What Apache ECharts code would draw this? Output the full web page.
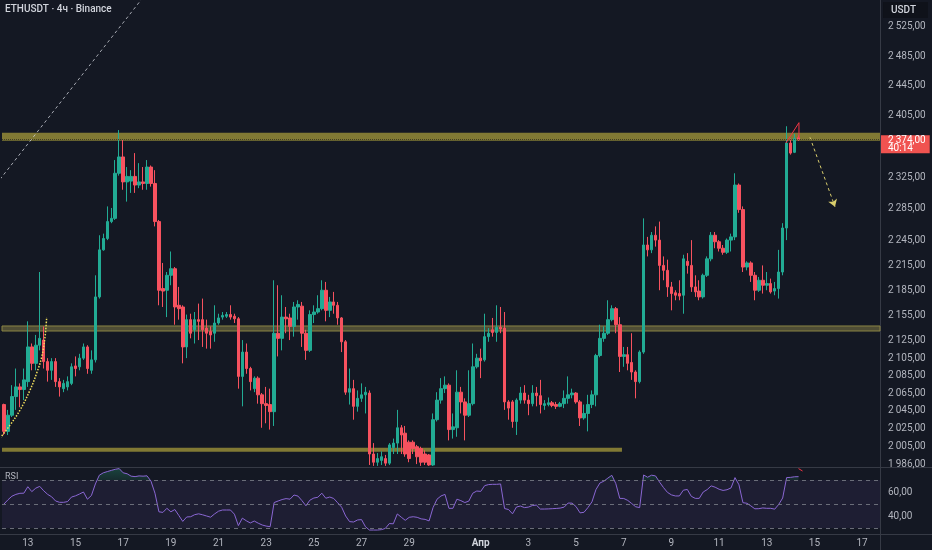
<!DOCTYPE html>
<html><head><meta charset="utf-8">
<script src="https://cdn.jsdelivr.net/npm/echarts@6/dist/echarts.min.js"></script>
<style>html,body{margin:0;padding:0;background:#141823;}#c{width:932px;height:550px;}</style>
</head><body><div id="c"></div>
<script>
// ---- time slots (4h candles) ----
const startTime = Date.UTC(2025, 2, 12, 0, 0);
const stepHours = 4;
const slotCount = 221;

// ---- OHLC: [open, close, low, high] ----
const ohlc = [
[2052,2022,2018,2053],[2022,2040,2018,2046],[2040,2061,2038,2074],[2061,2072,2046,2093],[2072,2069,2049,2076],
[2069,2080,2057,2093],[2078,2118,2072,2148],[2118,2099,2091,2122],[2099,2120,2091,2132],[2120,2128,2114,2207],
[2126,2101,2093,2142],[2101,2091,2078,2105],[2091,2101,2080,2105],[2101,2078,2072,2105],[2078,2072,2061,2082],
[2070,2076,2066,2080],[2072,2078,2068,2084],[2076,2095,2074,2099],[2096,2093,2084,2107],[2095,2105,2091,2110],
[2105,2118,2103,2122],[2118,2093,2087,2120],[2091,2103,2087,2114],[2103,2177,2100,2203],[2177,2234,2175,2252],
[2234,2248,2233,2254],[2248,2269,2246,2288],[2269,2273,2267,2286],[2273,2330,2271,2347],[2330,2351,2327,2386],
[2351,2319,2309,2373],[2319,2326,2294,2338],[2320,2326,2305,2334],[2326,2315,2305,2356],[2315,2319,2311,2343],
[2319,2317,2309,2338],[2317,2338,2309,2347],[2338,2317,2313,2340],[2317,2269,2263,2334],[2269,2185,2167,2271],
[2187,2184,2165,2218],[2185,2203,2153,2207],[2203,2211,2191,2232],[2211,2165,2144,2213],[2167,2163,2150,2189],
[2165,2118,2099,2167],[2118,2150,2105,2156],[2150,2134,2128,2157],[2138,2150,2122,2159],[2150,2148,2126,2169],
[2150,2138,2118,2175],[2140,2134,2116,2150],[2136,2132,2116,2142],[2134,2146,2124,2167],[2146,2152,2144,2157],
[2153,2155,2150,2159],[2154,2156,2152,2159],[2156,2153,2150,2167],[2154,2151,2146,2157],[2151,2084,2070,2153],
[2084,2112,2050,2126],[2112,2093,2087,2122],[2093,2078,2068,2095],[2070,2082,2066,2084],[2082,2063,2053,2084],
[2063,2053,2026,2065],[2053,2051,2031,2072],[2052,2044,2024,2070],[2044,2134,2028,2197],[2134,2128,2107,2191],
[2128,2153,2114,2179],[2153,2151,2134,2165],[2152,2142,2126,2157],[2142,2165,2130,2171],[2165,2168,2150,2173],
[2166,2134,2118,2171],[2134,2114,2103,2138],[2114,2156,2112,2161],[2156,2159,2146,2167],[2159,2163,2157,2179],
[2163,2185,2161,2197],[2185,2161,2148,2195],[2161,2171,2153,2177],[2171,2167,2157,2183],[2167,2152,2144,2171],
[2152,2124,2112,2153],[2124,2066,2063,2126],[2066,2070,2052,2093],[2070,2050,2035,2080],[2050,2059,2044,2068],
[2059,2063,2055,2076],[2063,2066,2042,2072],[2065,1997,1985,2068],[1997,1988,1984,2009],[1988,1992,1984,1998],
[1990,1994,1985,2000],[1992,1987,1984,1996],[1987,2007,1985,2009],[2004,2009,1997,2014],[2009,2026,1997,2046],
[2026,2018,1997,2029],[2020,1997,1994,2028],[2010,1992,1988,2012],[2010,2003,1997,2012],[2005,1994,1986,2007],
[2003,1988,1984,2005],[1997,1988,1985,2001],[1996,1985,1984,1997],[1985,2035,1984,2042],[2035,2057,2033,2066],
[2057,2070,2053,2082],[2070,2074,2065,2084],[2074,2024,2012,2076],[2024,2027,2014,2042],[2026,2066,2016,2091],
[2066,2055,2042,2072],[2055,2040,2012,2059],[2040,2053,2038,2091],[2053,2095,2051,2122],[2095,2105,2093,2110],
[2105,2102,2082,2116],[2103,2130,2101,2157],[2130,2134,2124,2140],[2138,2135,2130,2152],[2135,2141,2124,2167],
[2141,2139,2134,2165],[2140,2055,2046,2159],[2055,2048,2035,2057],[2055,2033,2026,2057],[2033,2057,2018,2059],
[2057,2065,2053,2072],[2065,2057,2053,2074],[2057,2053,2040,2063],[2053,2065,2050,2074],[2065,2062,2050,2072],
[2062,2052,2042,2080],[2051,2053,2046,2057],[2052,2054,2050,2060],[2054,2051,2049,2056],[2052,2050,2047,2055],
[2050,2053,2049,2055],[2053,2059,2048,2068],[2059,2063,2053,2084],[2063,2065,2059,2070],[2065,2055,2053,2066],
[2055,2037,2028,2057],[2037,2042,2035,2052],[2042,2052,2022,2063],[2052,2063,2048,2068],[2063,2108,2050,2110],
[2108,2128,2106,2144],[2128,2134,2124,2142],[2134,2150,2132,2173],[2150,2163,2148,2167],[2163,2144,2134,2165],
[2144,2107,2089,2153],[2107,2109,2095,2118],[2109,2099,2091,2118],[2100,2089,2080,2134],[2089,2078,2059,2091],
[2078,2112,2076,2114],[2112,2240,2110,2273],[2240,2234,2226,2250],[2234,2252,2230,2256],[2252,2246,2238,2263],
[2246,2215,2185,2269],[2215,2209,2197,2226],[2209,2189,2177,2222],[2189,2181,2161,2195],[2182,2179,2173,2185],
[2181,2178,2173,2197],[2179,2223,2157,2228],[2220,2215,2205,2230],[2215,2189,2183,2246],[2189,2183,2177,2203],
[2184,2177,2173,2197],[2177,2203,2175,2205],[2203,2223,2201,2226],[2223,2252,2220,2256],[2252,2244,2236,2256],
[2244,2236,2232,2246],[2236,2231,2228,2240],[2231,2246,2229,2248],[2246,2250,2232,2254],[2250,2315,2246,2330],
[2315,2284,2280,2317],[2284,2213,2207,2288],[2213,2218,2209,2220],[2218,2203,2195,2220],[2203,2185,2173,2207],
[2185,2197,2183,2201],[2197,2191,2181,2215],[2191,2193,2185,2207],[2193,2183,2181,2199],[2184,2187,2179,2195],
[2187,2207,2175,2234],[2207,2261,2203,2267],[2261,2369,2246,2391],[2369,2356,2354,2375],[2357,2375,2356,2381],
[2376,2374,2372,2379]
];

// ---- RSI(14) per candle ----
const rsi = [
50,53.5,56.5,58,58.9,59,64.4,60.3,63.2,64.7,
61,58,56,52.5,51.4,51.4,52,55.8,56.8,58.3,
60,54,57,66.7,74,76,77,78,78.9,79.5,
76,75.2,73.2,72.8,73.4,73.2,73.5,69,59,43.5,
43,46.4,43.5,45.4,40.5,35.5,39.2,39.4,41.1,41.8,
41,40,39,41.7,44,45,45,45,41.5,32,
38.2,36,34.2,35.8,34,32.5,31.6,31.1,51.2,52.5,
53.7,54.5,54,57.5,56.6,52.8,48.5,53.2,55,55.6,
59,54.8,55.8,54.6,51,47.3,40,35.3,35,36.7,
37,31,28.3,28.3,28.3,28.6,29.7,33.7,33.5,41.7,
39,36.4,38.9,39.4,38.9,37.6,37.2,35.9,47,54,
56.7,58,46.4,46.4,54,52.8,51.2,52.4,59,60.8,
60.5,65.3,66.2,66.4,66.4,66.7,46.2,45.4,41.8,47.5,
48.3,47,47.4,48.7,49.1,45.8,45.8,45.9,46.1,46.3,
46.6,47.4,50.8,50.7,47.8,42.6,43.1,47.1,51.8,62,
67.5,69,71.6,73.9,67,54.7,54.6,53,50.4,47.7,
47,74.2,72.3,74,73.4,68.3,63.7,59.7,57.6,56.7,
56.7,61.5,62.1,56.4,54.7,54.7,60,62,65.1,64,
62.3,61.3,61.9,63.4,72,66,51.1,50.6,48.4,46,
46.1,46.7,46.4,46.4,45.7,49.6,55,72,72.2,72.7,
72.8
];

// ---- axis ticks / labels ----
const priceTicks = [2525,2485,2445,2405,2325,2285,2245,2215,2185,2155,2125,2105,2085,2065,2045,2025,2005,1986];
const rsiTicks = [60, 40];
const rsiLevels = [70, 50, 30];
const labelDays = ['03-13','03-15','03-17','03-19','03-21','03-23','03-25','03-27','03-29',
                   '04-01','04-03','04-05','04-07','04-09','04-11','04-13','04-15','04-17'];
const monthLabels = {'04-01': 'Апр'};

// ---- price levels & drawings (slot index, price) ----
const bandTop = [2372.1, 2382.5];
const bandMid = [2136.6, 2142.5];
const bandLow = [1999.4, 2003.8];
const bandLowEnd = 155.55;
const lastPrice = 2374;
const countdown = '40:14';
const trendLine = [[-1, 2322.3], [36.75, 2578.8]];
const arcCurve = [[-1.0,2014.5],[1.51,2028.9],[4.03,2045.7],[6.55,2068.3],[8.23,2087.8],[9.49,2106.2],[10.32,2129.5],[10.75,2153.0]];
const arrowLine = [[202.87, 2376.5], [209.17, 2287.6]];
const redMark = [[196.83, 2369.1], [200.1, 2395.7], [200.1, 2375.6]];
const rsiMark = [[200, 79.5], [201, 77.5]];

// ---- helpers ----
const pad = n => String(n).padStart(2, '0');
const categories = [];
for (let i = 0; i < slotCount; i++) {
  const d = new Date(startTime + i * stepHours * 3600e3);
  categories.push(pad(d.getUTCMonth() + 1) + '-' + pad(d.getUTCDate()) + ' ' + pad(d.getUTCHours()) + ':00');
}
function fmtPrice(v) {
  const s = Number(v).toFixed(2).split('.');
  return s[0].replace(/\B(?=(\d{3})+(?!\d))/g, '\u2009') + ',' + s[1];
}
const up = '#22ab94', down = '#f7525f';
const axisText = {color: '#b2b5be', fontSize: 10, fontFamily: 'Roboto'};
const sep = '#363a45';

const chart = echarts.init(document.getElementById('c'), null, {renderer: 'canvas'});
chart.setOption({
  animation: false,
  backgroundColor: '#141823',
  title: [
    {text: 'ETHUSDT · 4ч · Binance', left: 3, top: 3, padding: [1, 2],
     textStyle: {color: '#d1d4dc', fontSize: 10, fontWeight: 500, fontFamily: 'Roboto'}},
    {text: 'USDT', right: 4, top: 2, padding: [3, 12, 3, 8], backgroundColor: '#0f121a',
     textStyle: {color: '#d1d4dc', fontSize: 10, fontWeight: 500, fontFamily: 'Roboto'}},
    {text: 'RSI', left: 3, top: 471, padding: [1, 2],
     textStyle: {color: '#b2b5be', fontSize: 9, fontWeight: 400, fontFamily: 'Roboto'}}
  ],
  grid: [
    {left: 2, right: 52, top: 0, height: 467},
    {left: 2, right: 52, top: 468, height: 66}
  ],
  xAxis: [
    {type: 'category', gridIndex: 0, data: categories, boundaryGap: true,
     axisLine: {show: false}, axisTick: {show: false}, axisLabel: {show: false}, splitLine: {show: false}},
    {type: 'value', gridIndex: 0, min: -0.5, max: slotCount - 0.5, show: false},
    {type: 'category', gridIndex: 1, data: categories, boundaryGap: true,
     axisLine: {show: false}, axisTick: {show: false}, splitLine: {show: false},
     axisLabel: Object.assign({}, axisText, {
       margin: 4, fontSize: 10,
       interval: (idx, val) => val.endsWith(' 00:00') && labelDays.includes(val.slice(0, 5)),
       formatter: val => {
         const md = val.slice(0, 5);
         if (monthLabels[md]) return '{m|' + monthLabels[md] + '}';
         return String(parseInt(md.slice(3), 10));
       },
       rich: {m: {color: '#d1d4dc', fontSize: 10, fontWeight: 700, fontFamily: 'Roboto'}}
     })}
  ],
  yAxis: [
    {type: 'log', logBase: 10, gridIndex: 0, position: 'right', min: 1982.8, max: 2562.7,
     axisLine: {show: false}, axisTick: {show: false}, splitLine: {show: false},
     axisLabel: Object.assign({}, axisText, {customValues: priceTicks, formatter: v => fmtPrice(v), margin: 8})},
    {type: 'value', gridIndex: 1, position: 'right', min: 25, max: 80,
     axisLine: {show: false}, axisTick: {show: false}, splitLine: {show: false},
     axisLabel: Object.assign({}, axisText, {customValues: rsiTicks, formatter: v => Number(v).toFixed(2).replace('.', ','), margin: 8})}
  ],
  series: [
    {
      type: 'line', xAxisIndex: 1, yAxisIndex: 0, data: trendLine, symbol: 'none', silent: true, z: 1,
      lineStyle: {color: 'rgba(215,217,225,0.75)', width: 1, type: [3, 3]},
      markArea: {
        silent: true,
        data: [
          [{yAxis: bandTop[0], itemStyle: {color: 'rgba(160,149,58,0.78)'}}, {yAxis: bandTop[1]}],
          [{yAxis: bandMid[0], itemStyle: {color: 'rgba(128,122,70,0.55)', borderColor: '#8a8444', borderWidth: 1}}, {yAxis: bandMid[1]}],
          [{coord: [-0.5, bandLow[0]], itemStyle: {color: 'rgba(160,149,58,0.78)'}}, {coord: [bandLowEnd, bandLow[1]]}]
        ]
      },
      markLine: {
        silent: true, symbol: ['none', 'arrow'], symbolSize: 7,
        lineStyle: {color: '#d9cd6c', width: 1, type: [3, 3]}, label: {show: false},
        data: [[{coord: arrowLine[0]}, {coord: arrowLine[1]}]]
      }
    },
    {
      type: 'candlestick', xAxisIndex: 0, yAxisIndex: 0, data: ohlc, barWidth: 3, z: 3,
      itemStyle: {color: up, color0: down, borderColor: up, borderColor0: down, borderWidth: 1},
      markLine: {
        silent: true, symbol: 'none',
        lineStyle: {color: 'rgba(40,38,30,0.7)', width: 1, type: 'dotted'},
        label: {
          show: true, position: 'insideEndBottom', distance: [-1, -4],
          formatter: () => fmtPrice(lastPrice) + '\n' + countdown,
          backgroundColor: '#f05350', color: '#ffffff', fontSize: 10, lineHeight: 8,
          fontFamily: 'Roboto', padding: [1, 4, 1, 7], align: 'left', verticalAlign: 'top'
        },
        data: [{yAxis: lastPrice}]
      }
    },
    {
      type: 'line', xAxisIndex: 1, yAxisIndex: 0, data: arcCurve, smooth: 0.4, symbol: 'none', silent: true, z: 4,
      lineStyle: {color: '#f1df5c', width: 1.5, type: [1.5, 1.5]}
    },
    {
      type: 'line', xAxisIndex: 1, yAxisIndex: 0, data: redMark, symbol: 'none', silent: true, z: 5,
      lineStyle: {color: '#f23645', width: 1}
    },
    {
      type: 'line', xAxisIndex: 2, yAxisIndex: 1, data: rsi, symbol: 'none', silent: true, z: 3,
      lineStyle: {color: '#8a67d3', width: 1},
      areaStyle: {
        origin: 70,
        color: new echarts.graphic.LinearGradient(0, 468, 0, 534, [
          {offset: 0, color: 'rgba(38,166,120,0.45)'},
          {offset: 0.18, color: 'rgba(38,166,120,0.2)'},
          {offset: 0.185, color: 'rgba(0,0,0,0)'},
          {offset: 1, color: 'rgba(0,0,0,0)'}
        ], true)
      },
      markArea: {
        silent: true,
        itemStyle: {color: 'rgba(126,87,194,0.1)'},
        data: [[{yAxis: 30}, {yAxis: 70}]]
      },
      markLine: {
        silent: true, symbol: 'none', label: {show: false},
        lineStyle: {color: 'rgba(120,123,134,0.85)', width: 1, type: [4, 4]},
        data: rsiLevels.map(v => ({yAxis: v}))
      }
    },
    {
      type: 'line', xAxisIndex: 2, yAxisIndex: 1, data: rsiMark, symbol: 'none', silent: true, z: 4,
      lineStyle: {color: '#f23645', width: 1}
    }
  ],
  graphic: [
    {type: 'line', silent: true, shape: {x1: 0, y1: 467.5, x2: 932, y2: 467.5}, style: {stroke: sep, lineWidth: 1}},
    {type: 'line', silent: true, shape: {x1: 0, y1: 534.5, x2: 932, y2: 534.5}, style: {stroke: sep, lineWidth: 1}},
    {type: 'line', silent: true, shape: {x1: 880.5, y1: 0, x2: 880.5, y2: 550}, style: {stroke: sep, lineWidth: 1}}
  ]
});
</script>
</body></html>
